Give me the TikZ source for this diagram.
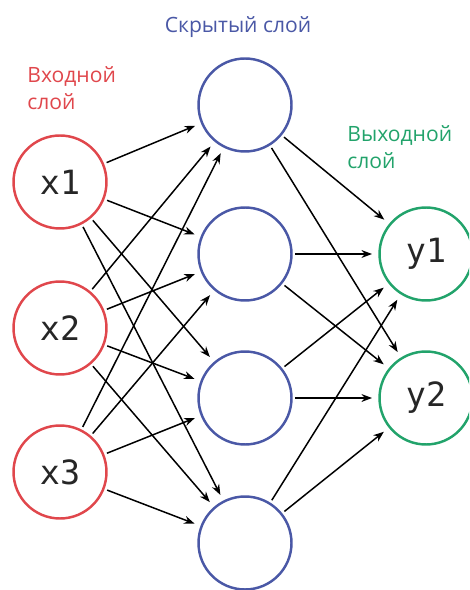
\documentclass[tikz,border=0pt]{standalone}
\usepackage{fontspec}
\setmainfont{Open Sans}
\newfontfamily\monof{DejaVu Sans Mono}
\usetikzlibrary{arrows.meta}
\definecolor{inred}{HTML}{E0474C}
\definecolor{hidblue}{HTML}{4A58A6}
\definecolor{outgreen}{HTML}{22A36B}
\begin{document}
\begin{tikzpicture}[x=0.02cm,y=-0.02cm,
  neuron/.style={circle,draw,line width=1.4pt,minimum size=1.86cm,inner sep=0pt,outer sep=0.08cm,font=\monof\fontsize{19}{19}\selectfont,text=black!85},
  inp/.style={neuron,draw=inred},
  hid/.style={neuron,draw=hidblue},
  outp/.style={neuron,draw=outgreen},
  conn/.style={line width=0.85pt,-{Stealth[length=6pt,width=4.5pt]},shorten >=2pt},
  lbl/.style={font=\fontsize{12}{15.5}\selectfont,align=left}]
\useasboundingbox (0,0) rectangle (469,590);
\clip (0,0) rectangle (469,590);
\node[inp] (x1) at (60,182) {x1};
\node[inp] (x2) at (60,328) {x2};
\node[inp] (x3) at (60,472) {x3};
\node[hid] (h1) at (245,105) {};
\node[hid] (h2) at (245,254) {};
\node[hid] (h3) at (245,398) {};
\node[hid] (h4) at (245,543) {};
\node[outp] (y1) at (426,254) {y1};
\node[outp] (y2) at (426,398) {y2};
\node[lbl,text=hidblue,anchor=base] (th) at (238,33) {Скрытый слой};
\node[lbl,text=inred,anchor=north west,inner sep=0pt] (ti) at (27,66) {Входной\\слой};
\node[lbl,text=outgreen,anchor=north west,inner sep=0pt] (to) at (347,125) {Выходной\\слой};
\foreach \i in {x1,x2,x3}{
  \foreach \j in {h1,h2,h3,h4}{
    \draw[conn] (\i) -- (\j);
  }
}
\foreach \i in {h1,h2,h3,h4}{
  \foreach \j in {y1,y2}{
    \draw[conn] (\i) -- (\j);
  }
}
\end{tikzpicture}
\end{document}
